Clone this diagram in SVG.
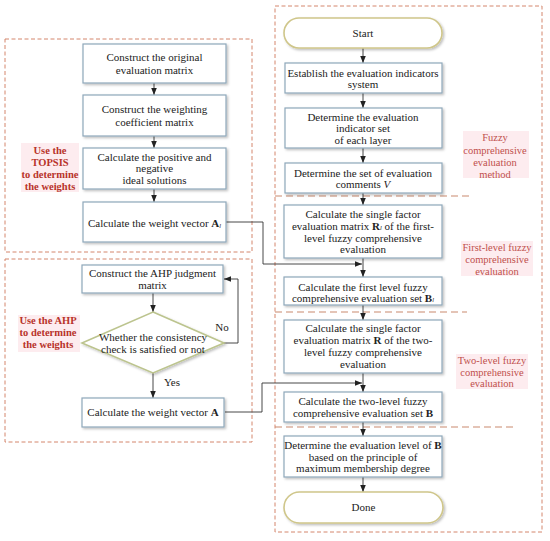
<svg xmlns="http://www.w3.org/2000/svg" width="550" height="541" viewBox="0 0 550 541">
<style>
text{font-family:"Liberation Serif","Times New Roman",serif;font-size:11px;fill:#222;text-anchor:middle}
.box{fill:#fff;stroke:#8ea7ba;stroke-width:1.2;filter:url(#sh)}
.term{fill:#fff;stroke:#cfc68a;stroke-width:1.6;filter:url(#sh)}
.frame{fill:none;stroke:#d4866c;stroke-width:1;stroke-dasharray:4 2.5}
.sep{fill:none;stroke:#c98a6e;stroke-width:1.1;stroke-dasharray:7 4}
.conn{fill:none;stroke:#333;stroke-width:0.9}
.lbl-l{fill:#b8332a;font-weight:bold;font-size:10.5px}
.lbl-r{fill:#c0504d;font-size:10.5px}
.bg{fill:#fdecef}
.sub{font-style:italic;font-size:6.5px}
</style>
<defs>
<filter id="sh" x="-10%" y="-10%" width="125%" height="140%">
<feDropShadow dx="1.5" dy="1.5" stdDeviation="1" flood-color="#000" flood-opacity="0.25"/>
</filter>
<marker id="ah" viewBox="0 0 10 10" refX="10" refY="5" markerWidth="7" markerHeight="7" orient="auto" markerUnits="userSpaceOnUse">
<path d="M0,1 L10,5 L0,9 z" fill="#222"/>
</marker>
</defs>
<rect width="550" height="541" fill="#fff"/>

<g id="frames">
<rect class="frame" x="5" y="39" width="247" height="213"/>
<rect class="frame" x="5" y="259" width="247" height="183"/>
<rect class="frame" x="275" y="6" width="267" height="526"/>
<line class="sep" x1="275" y1="196" x2="471" y2="196"/>
<line class="sep" x1="275" y1="312" x2="467" y2="312"/>
<line class="sep" x1="275" y1="427" x2="517" y2="427"/>
</g>

<g id="labels">
<rect class="bg" x="21" y="143" width="58" height="49"/>
<text class="lbl-l" x="50" y="154">Use the</text>
<text class="lbl-l" x="50" y="166">TOPSIS</text>
<text class="lbl-l" x="50" y="178">to determine</text>
<text class="lbl-l" x="50" y="190">the weights</text>
<rect class="bg" x="18" y="315" width="62" height="37"/>
<text class="lbl-l" x="48" y="324">Use the AHP</text>
<text class="lbl-l" x="48" y="336">to determine</text>
<text class="lbl-l" x="48" y="348">the weights</text>
<rect class="bg" x="463" y="131" width="66" height="47"/>
<text class="lbl-r" x="495" y="141">Fuzzy</text>
<text class="lbl-r" x="495" y="154">comprehensive</text>
<text class="lbl-r" x="495" y="166">evaluation</text>
<text class="lbl-r" x="495" y="178">method</text>
<rect class="bg" x="461" y="241" width="72" height="35"/>
<text class="lbl-r" x="497" y="251">First-level fuzzy</text>
<text class="lbl-r" x="497" y="263">comprehensive</text>
<text class="lbl-r" x="497" y="275">evaluation</text>
<rect class="bg" x="456" y="354" width="72" height="35"/>
<text class="lbl-r" x="492" y="364">Two-level fuzzy</text>
<text class="lbl-r" x="492" y="376">comprehensive</text>
<text class="lbl-r" x="492" y="387">evaluation</text>
</g>

<g id="connectors">
<line class="conn" x1="154" y1="83" x2="154" y2="95" marker-end="url(#ah)"/>
<line class="conn" x1="154" y1="136" x2="154" y2="148" marker-end="url(#ah)"/>
<line class="conn" x1="154" y1="189" x2="154" y2="202" marker-end="url(#ah)"/>
<line class="conn" x1="153" y1="293" x2="153" y2="312" marker-end="url(#ah)"/>
<line class="conn" x1="153" y1="373" x2="153" y2="398" marker-end="url(#ah)"/>
<polyline class="conn" points="224,343 238,343 238,279 224,279" marker-end="url(#ah)"/>
<polyline class="conn" points="226,222 263,222 263,264 362,264" marker-end="url(#ah)"/>
<polyline class="conn" points="225,412 262,412 262,383 362,383" marker-end="url(#ah)"/>
<line class="conn" x1="363" y1="48" x2="363" y2="63" marker-end="url(#ah)"/>
<line class="conn" x1="363" y1="93" x2="363" y2="108" marker-end="url(#ah)"/>
<line class="conn" x1="363" y1="148" x2="363" y2="163" marker-end="url(#ah)"/>
<line class="conn" x1="363" y1="193" x2="363" y2="205" marker-end="url(#ah)"/>
<line class="conn" x1="363" y1="258" x2="363" y2="277" marker-end="url(#ah)"/>
<line class="conn" x1="363" y1="305" x2="363" y2="320" marker-end="url(#ah)"/>
<line class="conn" x1="363" y1="373" x2="363" y2="392" marker-end="url(#ah)"/>
<line class="conn" x1="363" y1="422" x2="363" y2="436" marker-end="url(#ah)"/>
<line class="conn" x1="363" y1="477" x2="363" y2="492" marker-end="url(#ah)"/>
<text x="222" y="331">No</text>
<text x="172" y="386">Yes</text>
</g>

<g id="n1"><rect class="box" x="83" y="44" width="143" height="39"/>
<text x="154.5" y="61">Construct the original</text><text x="154.5" y="74">evaluation matrix</text></g>
<g id="n2"><rect class="box" x="83" y="95" width="143" height="41"/>
<text x="154.5" y="113">Construct the weighting</text><text x="154.5" y="126">coefficient matrix</text></g>
<g id="n3"><rect class="box" x="83" y="148" width="143" height="41"/>
<text x="154.5" y="161">Calculate the positive and</text><text x="154.5" y="172">negative</text><text x="154.5" y="184">ideal solutions</text></g>
<g id="n4"><rect class="box" x="83" y="202" width="143" height="40"/>
<text x="154.5" y="227">Calculate the weight vector <tspan font-weight="bold">A</tspan><tspan class="sub" dy="1">l</tspan></text></g>

<g id="n5"><rect class="box" x="82" y="265" width="141" height="28"/>
<text x="152.5" y="277">Construct the AHP judgment</text><text x="152.5" y="289">matrix</text></g>
<g id="n6"><polygon points="153,312 224,343 153,373 82,343" fill="#fff" stroke="#bcc48e" stroke-width="1.6" filter="url(#sh)"/>
<text x="153" y="341">Whether the consistency</text><text x="153" y="353">check is satisfied or not</text></g>
<g id="n7"><rect class="box" x="82" y="398" width="142" height="29"/>
<text x="153" y="416">Calculate the weight vector <tspan font-weight="bold">A</tspan></text></g>

<g id="start"><rect class="term" x="284" y="18" width="158" height="30" rx="15"/>
<text x="363" y="37">Start</text></g>
<g id="r1"><rect class="box" x="285" y="63" width="157" height="30"/>
<text x="363" y="77">Establish the evaluation indicators</text><text x="363" y="88">system</text></g>
<g id="r2"><rect class="box" x="285" y="108" width="157" height="40"/>
<text x="363" y="121">Determine the evaluation</text><text x="363" y="132">indicator set</text><text x="363" y="144">of each layer</text></g>
<g id="r3"><rect class="box" x="285" y="163" width="157" height="30"/>
<text x="363" y="177">Determine the set of evaluation</text><text x="363" y="188">comments <tspan font-style="italic">V</tspan></text></g>
<g id="r4"><rect class="box" x="284" y="205" width="158" height="53"/>
<text x="363" y="218">Calculate the single factor</text>
<text x="363" y="230">evaluation matrix  <tspan font-weight="bold">R</tspan><tspan class="sub">l</tspan> of the first-</text>
<text x="363" y="242">level fuzzy comprehensive</text><text x="363" y="253">evaluation</text></g>
<g id="r5"><rect class="box" x="284" y="277" width="158" height="28"/>
<text x="363" y="291">Calculate the first level fuzzy</text>
<text x="363" y="302">comprehensive evaluation set <tspan font-weight="bold">B</tspan><tspan class="sub">l</tspan></text></g>
<g id="r6"><rect class="box" x="284" y="320" width="158" height="53"/>
<text x="363" y="332">Calculate the single factor</text>
<text x="363" y="344">evaluation matrix <tspan font-weight="bold">R</tspan>  of the two-</text>
<text x="363" y="356">level fuzzy comprehensive</text><text x="363" y="368">evaluation</text></g>
<g id="r7"><rect class="box" x="284" y="392" width="158" height="30"/>
<text x="363" y="405">Calculate the two-level fuzzy</text>
<text x="363" y="417">comprehensive evaluation set <tspan font-weight="bold">B</tspan></text></g>
<g id="r8"><rect class="box" x="284" y="436" width="158" height="41"/>
<text x="363" y="449">Determine the evaluation level of <tspan font-weight="bold">B</tspan></text>
<text x="363" y="461">based on the principle of</text><text x="363" y="472">maximum membership degree</text></g>
<g id="done"><rect class="term" x="284" y="492" width="159" height="31" rx="15.5"/>
<text x="363.5" y="511">Done</text></g>
</svg>
